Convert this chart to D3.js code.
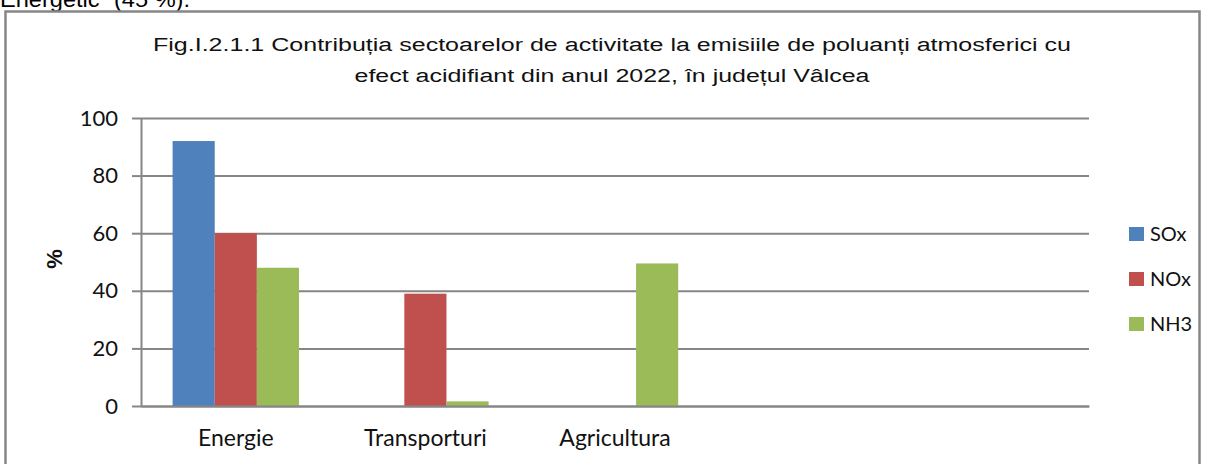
<!DOCTYPE html>
<html><head><meta charset="utf-8">
<script src="https://cdn.jsdelivr.net/npm/d3@7"></script>
<style>body{margin:0;background:#fff;overflow:hidden} svg{display:block}</style>
</head><body><svg id="c" width="1207" height="464"></svg>
<script>
const categories = ["Energie", "Transporturi", "Agricultura", "", ""];
const seriesNames = ["SOx", "NOx", "NH3"];
const soxValues = [92, 0, 0, null, null];
const noxValues = [60, 39, 0, null, null];
const nh3Values = [48, 1.6, 49.5, null, null];
const yTickValues = [0, 20, 40, 60, 80, 100];
const seriesColors = ["#4f81bd", "#c0504d", "#9bbb59"];
const titleLines = [
  "Fig.I.2.1.1 Contribuția sectoarelor de activitate la emisiile de poluanți atmosferici cu",
  "efect acidifiant din anul 2022, în județul Vâlcea"
];
const topText = "Energetic\u201d (45 %).";
const yLabel = "%";

(function () {
const series = [soxValues, noxValues, nh3Values];
const svg = d3.select("#c");
const grey = "#868686";
const catFont = "Lato, 'Open Sans', sans-serif";
const titleWidths = [918, 515];

svg.append("text").attr("x", 0).attr("y", 7)
  .attr("font-family", "'Liberation Sans', Arial, sans-serif").attr("font-size", 22)
  .attr("textLength", 190).attr("lengthAdjust", "spacingAndGlyphs")
  .attr("fill", "#000").text(topText);

svg.append("rect").attr("x", 5.5).attr("y", 11.5).attr("width", 1194).attr("height", 470)
  .attr("fill", "none").attr("stroke", grey).attr("stroke-width", 2.5);

svg.append("g").selectAll("text").data(titleLines).join("text")
  .attr("text-anchor", "middle")
  .attr("font-family", "'Liberation Sans', Arial, sans-serif").attr("font-size", 18.8)
  .attr("fill", "#111")
  .attr("x", 612).attr("y", (d, i) => 51 + i * 30.5)
  .attr("textLength", (d, i) => titleWidths[i]).attr("lengthAdjust", "spacingAndGlyphs")
  .text(d => d);

const pLeft = 141, pRight = 1089, pTop = 118, pBottom = 406;
const x = d3.scaleBand().domain(d3.range(categories.length)).range([pLeft, pRight]).padding(0);
const xs = d3.scaleBand().domain(d3.range(series.length)).range([0, x.bandwidth()])
  .paddingInner(0).paddingOuter(0.75);
const y = d3.scaleLinear().domain([0, 100]).range([pBottom, pTop]);

const grid = svg.append("g").attr("transform", `translate(${pLeft},0)`)
  .call(d3.axisLeft(y).tickValues(yTickValues).tickSize(-(pRight - pLeft)).tickFormat(""));
grid.select(".domain").remove();
grid.selectAll("line").attr("stroke", grey).attr("stroke-width", 2);

series.forEach((vals, si) => {
  svg.append("g").selectAll("rect").data(vals.map((v, i) => ({v, i})).filter(d => d.v !== null && d.v > 0))
    .join("rect")
    .attr("x", d => x(d.i) + xs(si))
    .attr("width", xs.bandwidth())
    .attr("y", d => y(d.v))
    .attr("height", d => y(0) - y(d.v))
    .attr("fill", seriesColors[si]);
});

const yAxis = svg.append("g").attr("transform", `translate(${pLeft},0)`)
  .call(d3.axisLeft(y).tickValues(yTickValues).tickSize(9).tickPadding(14).tickSizeOuter(0));
yAxis.select(".domain").attr("stroke", grey).attr("stroke-width", 2);
yAxis.selectAll(".tick line").attr("stroke", grey).attr("stroke-width", 2);
yAxis.selectAll(".tick text").attr("font-family", catFont).attr("font-size", 22).attr("fill", "#111");

const xAxis = svg.append("g").attr("transform", `translate(0,${pBottom})`)
  .call(d3.axisBottom(x).tickSize(0).tickPadding(24).tickFormat(i => categories[i]));
xAxis.select(".domain").attr("stroke", grey).attr("stroke-width", 2);
xAxis.selectAll(".tick text").attr("font-family", catFont).attr("font-size", 23).attr("fill", "#111");

svg.append("text").attr("transform", "translate(54,259) rotate(-90)")
  .attr("text-anchor", "middle").attr("dy", "0.35em").attr("font-family", "'Liberation Sans', Arial, sans-serif")
  .attr("font-weight", "bold").attr("font-size", 22).attr("fill", "#111").text(yLabel);

const legend = svg.append("g").selectAll("g").data(seriesNames).join("g")
  .attr("transform", (d, i) => `translate(1129,${234 + i * 45})`);
legend.append("rect").attr("x", 0).attr("y", -7).attr("width", 15).attr("height", 14)
  .attr("fill", (d, i) => seriesColors[i]);
legend.append("text").attr("x", 21).attr("y", 0).attr("dy", "0.35em")
  .attr("font-family", catFont).attr("font-size", 20).attr("fill", "#111").text(d => d);
})();
</script></body></html>
